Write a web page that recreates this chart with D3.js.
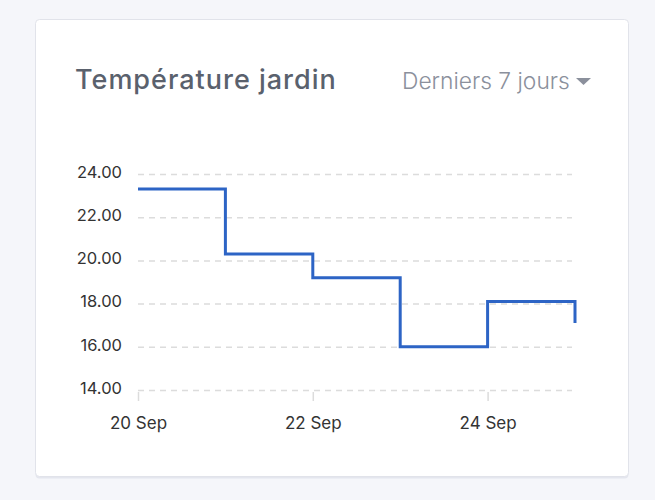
<!DOCTYPE html>
<html>
<head>
<meta charset="utf-8">
<script src="https://cdn.jsdelivr.net/npm/d3@7"></script>
<style>
  html, body { margin: 0; padding: 0; background: #f5f6fa; }
  svg { display: block; }
  text { font-family: Inter, "Noto Sans", sans-serif; }
</style>
</head>
<body>
<svg id="chart" width="655" height="500"></svg>
<script>
// Data
const dates = ["2021-09-20", "2021-09-21", "2021-09-22", "2021-09-23", "2021-09-24", "2021-09-25"];
const temperatures = [23.3, 20.3, 19.2, 16.0, 18.1, 17.1];
const yTicks = [14, 16, 18, 20, 22, 24];
const xTickDates = ["2021-09-20", "2021-09-22", "2021-09-24"];
const title = "Température jardin";
const periodLabel = "Derniers 7 jours";

const parse = d3.timeParse("%Y-%m-%d");
const data = dates.map((d, i) => ({ date: parse(d), value: temperatures[i] }));

const svg = d3.select("#chart");

// Card
svg.append("rect")
  .attr("x", 35.5).attr("y", 21.5).attr("width", 593).attr("height", 457)
  .attr("rx", 4).attr("fill", "#e4e6ee");
svg.append("rect")
  .attr("x", 35.5).attr("y", 19.5).attr("width", 593).attr("height", 457)
  .attr("rx", 4).attr("fill", "#ffffff").attr("stroke", "#e1e3ea").attr("stroke-width", 1);

// Title
svg.append("text")
  .attr("x", 75).attr("y", 89)
  .attr("font-size", 27).attr("font-weight", 500).attr("fill", "#5a616d")
  .attr("letter-spacing", 1)
  .text(title);

svg.append("text")
  .attr("x", 402).attr("y", 89)
  .attr("font-size", 22.8).attr("font-weight", 300).attr("fill", "#8b909c")
  .text(periodLabel);
svg.append("path")
  .attr("d", "M576,78 L591,78 L583.5,85 Z")
  .attr("fill", "#8b909c");

// Scales
const x = d3.scaleTime()
  .domain([data[0].date, data[data.length - 1].date])
  .range([138, 575]);
const y = d3.scaleLinear().domain([14, 24]).range([390, 174]);

// Y axis with grid
const yAxis = svg.append("g")
  .attr("transform", "translate(138,0)")
  .call(d3.axisLeft(y).tickValues(yTicks).tickSize(-434).tickPadding(16).tickFormat(d3.format(".2f")));
yAxis.select(".domain").remove();
yAxis.selectAll(".tick line")
  .attr("stroke", "#dcdcdc").attr("stroke-width", 1.5).attr("stroke-dasharray", "6,5");
yAxis.selectAll(".tick text")
  .attr("font-size", 16.5).attr("fill", "#333").attr("dy", "0.2em")
  .style("font-family", "Inter, sans-serif");

// X axis
const xAxis = svg.append("g")
  .attr("transform", "translate(0,392)")
  .call(d3.axisBottom(x).tickValues(xTickDates.map(parse)).tickSize(9).tickPadding(16).tickFormat(d3.timeFormat("%-d %b")));
xAxis.select(".domain").remove();
xAxis.selectAll(".tick line").attr("stroke", "#dcdcdc").attr("stroke-width", 1.5);
xAxis.selectAll(".tick text")
  .attr("font-size", 17).attr("fill", "#333")
  .style("font-family", "Inter, sans-serif");

// Step line
const line = d3.line()
  .x(d => x(d.date))
  .y(d => y(d.value))
  .curve(d3.curveStepAfter);
svg.append("path")
  .datum(data)
  .attr("d", line)
  .attr("fill", "none")
  .attr("stroke", "#2d64c5")
  .attr("stroke-width", 3);
</script>
</body>
</html>
